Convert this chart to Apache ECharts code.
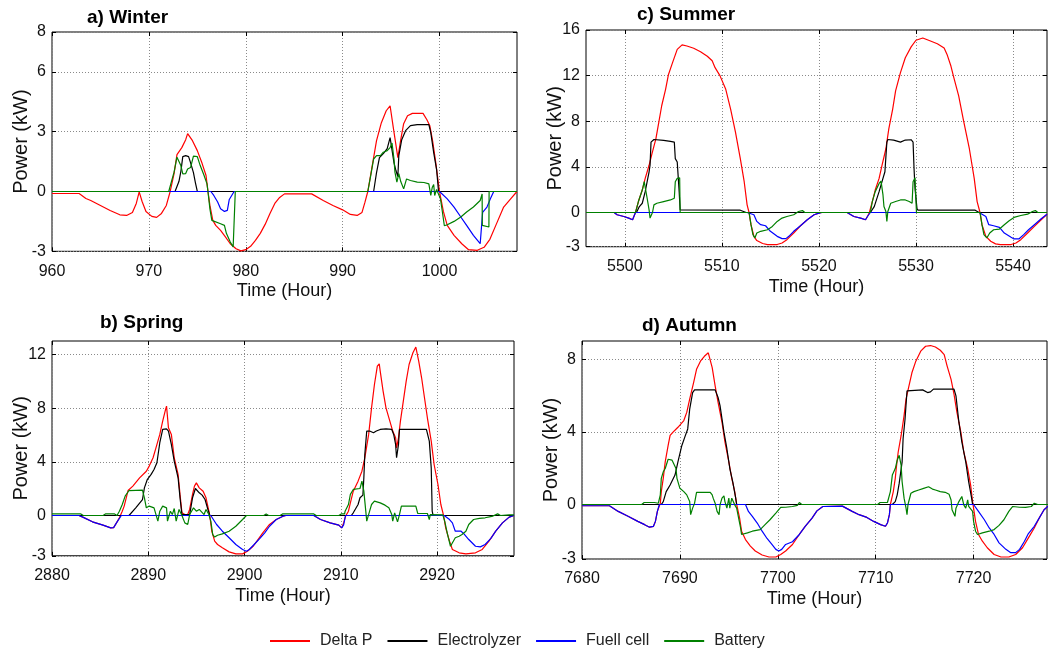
<!DOCTYPE html>
<html>
<head>
<meta charset="utf-8">
<script src="https://cdn.jsdelivr.net/npm/echarts@6/dist/echarts.min.js"></script>
<style>
  html, body { margin: 0; padding: 0; background: #fff; }
  #chart { width: 1048px; height: 655px; }
</style>
</head>
<body>
<div id="chart"></div>
<script>
// ── series names / colours ───────────────────────────────────
const seriesNames  = ['Delta P', 'Electrolyzer', 'Fuell cell', 'Battery']
const seriesColors = ['#ff0000', '#000000', '#0000ff', '#008000']

// ── tick labels ──────────────────────────────────────────────
const winterXTicks = [960, 970, 980, 990, 1000]
const winterYTicks = [-3, 0, 3, 6, 8]
const springXTicks = [2880, 2890, 2900, 2910, 2920]
const springYTicks = [-3, 0, 4, 8, 12]
const summerXTicks = [5500, 5510, 5520, 5530, 5540]
const summerYTicks = [-3, 0, 4, 8, 12, 16]
const autumnXTicks = [7680, 7690, 7700, 7710, 7720]
const autumnYTicks = [-3, 0, 4, 8]

// ── data: [hour, kW] ─────────────────────────────────────────
const winterDeltaP = [[960,-0.1],[962.8,-0.1],[963.5,-0.35],[964,-0.45],[965,-0.7],[966,-0.95],[967,-1.17],[967.7,-1.2],[968.3,-1.05],[968.7,-0.6],[969,-0.02],[969.3,-0.5],[969.7,-1.0],[970.3,-1.25],[970.8,-1.3],[971.3,-1.1],[971.8,-0.7],[972.2,0],[972.6,0.9],[972.9,1.85],[973.4,2.2],[973.8,2.6],[974,2.9],[974.5,2.55],[975,2.05],[975.5,1.4],[975.9,0.8],[976.1,0],[976.3,-0.7],[976.6,-1.45],[976.9,-1.7],[977.4,-1.95],[977.9,-2.28],[978.4,-2.62],[979,-2.87],[979.5,-2.98],[980,-2.92],[980.5,-2.75],[981,-2.45],[981.5,-2.1],[982,-1.65],[982.5,-1.1],[983,-0.6],[983.5,-0.3],[984,-0.12],[986.8,-0.12],[988,-0.45],[989,-0.7],[990,-0.92],[990.8,-1.15],[991.5,-1.2],[992,-1.05],[992.3,-0.55],[992.6,0],[993,1.13],[993.5,2.55],[994,3.45],[994.5,4.05],[994.9,4.3],[995.2,3.3],[995.7,1.7],[996,2.6],[996.3,3.4],[996.7,3.8],[997.2,3.92],[998.3,3.92],[998.7,3.6],[999,3.3],[999.3,2.5],[999.6,1.5],[1000,0],[1000.4,-1.0],[1000.8,-1.7],[1001.5,-2.2],[1002.3,-2.62],[1003,-2.92],[1003.9,-2.95],[1004.6,-2.8],[1005.2,-2.4],[1005.9,-1.6],[1006.6,-0.8],[1007.3,-0.4],[1008,0]]
const winterElectrolyzer = [[960,0],[972.7,0],[973.1,0.5],[973.3,1.0],[973.5,1.75],[973.8,1.8],[974.1,1.75],[974.3,1.45],[974.6,0.95],[974.8,0.45],[975,0],[993.2,0],[993.5,0.95],[993.8,1.7],[994.2,1.9],[994.6,2.15],[994.9,2.7],[995.05,2.6],[995.3,1.45],[995.5,1.05],[995.7,0.75],[995.8,1.8],[996.1,2.6],[996.5,3.05],[997,3.3],[997.7,3.35],[998.9,3.35],[999.1,2.95],[999.4,1.95],[999.7,1.1],[999.9,0],[1008,0]]
const winterFuelCell = [[960,0],[976.4,0],[976.7,-0.2],[977.1,-0.53],[977.4,-0.87],[977.8,-1.0],[978.1,-0.95],[978.3,-0.4],[978.8,0],[1000,0],[1000.8,-0.37],[1001.5,-0.78],[1002.2,-1.28],[1002.8,-1.7],[1003.5,-2.2],[1004.2,-2.62],[1004.4,-2.65],[1004.45,-1.05],[1004.9,-0.78],[1005.25,-0.37],[1005.6,0],[1008,0]]
const winterBattery = [[960,0],[972.05,0],[972.6,0.97],[972.9,1.72],[973.1,1.8],[973.3,1.3],[973.5,0.88],[973.8,0.9],[974,1.13],[974.3,1.2],[974.6,1.77],[975,1.75],[975.3,1.3],[975.7,0.8],[976,0.38],[976.1,0],[976.3,-0.87],[976.5,-1.45],[976.7,-1.55],[977.4,-1.62],[977.8,-1.7],[978,-2.1],[978.4,-2.53],[978.7,-2.78],[978.9,-2.85],[978.92,0],[992.6,0],[992.9,0.8],[993.2,1.63],[993.5,1.8],[993.9,1.8],[994.2,1.97],[994.6,2.05],[994.9,2.2],[995.1,2.43],[995.3,1.63],[995.4,0.97],[995.6,0.47],[995.8,0.9],[996,0.5],[996.3,0.13],[996.6,0.63],[997,0.55],[997.7,0.47],[998.4,0.45],[998.9,0.38],[999.1,-0.2],[999.25,0.2],[999.4,0.35],[999.5,-0.2],[999.7,0.1],[999.9,0],[1000.1,-0.37],[1000.3,-1.03],[1000.5,-1.72],[1000.8,-1.67],[1001.5,-1.5],[1002.2,-1.28],[1002.8,-1.03],[1003.5,-0.78],[1004.2,-0.45],[1004.4,-0.12],[1004.42,-1.7],[1005.1,-1.78],[1005.12,0],[1008,0]]

const springDeltaP = [[2880,0],[2882.8,0],[2883.2,-0.12],[2884.2,-0.47],[2885.3,-0.72],[2886.1,-0.92],[2886.4,-0.9],[2886.7,-0.55],[2887,-0.17],[2887.3,0.32],[2887.5,0.7],[2887.9,1.86],[2888.4,2.19],[2889.1,2.8],[2889.8,3.3],[2890.1,3.68],[2890.5,4.3],[2890.8,5.04],[2891.2,6.04],[2891.5,7.03],[2891.8,7.9],[2891.9,8.15],[2892.1,6.53],[2892.4,6.04],[2892.7,4.3],[2893.1,3.06],[2893.3,1.57],[2893.5,0.2],[2893.8,0.07],[2894.1,0.07],[2894.3,0.45],[2894.6,1.57],[2894.8,2.19],[2895,2.43],[2895.3,2.06],[2895.7,1.81],[2896,1.32],[2896.3,0.32],[2896.4,-0.05],[2896.6,-1.17],[2896.9,-1.91],[2897.2,-2.16],[2897.7,-2.41],[2898.4,-2.71],[2899.1,-2.86],[2899.8,-2.86],[2900.3,-2.66],[2900.9,-2.29],[2901.4,-1.79],[2901.9,-1.29],[2902.6,-0.67],[2903.3,-0.3],[2904,-0.05],[2904.3,0],[2907.2,0],[2907.9,-0.3],[2908.9,-0.55],[2909.8,-0.72],[2910.1,-0.92],[2910.3,-0.55],[2910.5,-0.05],[2910.8,0.32],[2911,0.94],[2911.3,1.81],[2911.8,2.56],[2912.2,3.3],[2912.5,4.3],[2912.9,6.04],[2913.2,8.02],[2913.5,9.76],[2913.8,11.13],[2914,11.3],[2914.1,10.76],[2914.4,9.27],[2914.7,8.02],[2915.1,7.03],[2915.4,6.29],[2915.7,5.79],[2915.8,5.04],[2916,5.79],[2916.2,7.03],[2916.5,8.52],[2916.8,10.01],[2917.1,11.25],[2917.5,12.12],[2917.8,12.55],[2918.1,11.5],[2918.4,10.26],[2918.7,8.77],[2919,7.28],[2919.4,5.54],[2919.7,3.8],[2920.1,2.31],[2920.4,0.82],[2920.7,-0.05],[2920.9,-0.92],[2921.3,-1.91],[2921.6,-2.53],[2922.3,-2.78],[2923,-2.86],[2924,-2.78],[2924.7,-2.53],[2925.4,-1.91],[2926.1,-1.17],[2926.8,-0.55],[2927.5,-0.12],[2928,0]]
const springElectrolyzer = [[2880,0],[2888,0],[2888.7,0.57],[2889.4,1.19],[2889.6,2.06],[2889.9,2.68],[2890.3,3.06],[2890.6,3.43],[2890.9,3.93],[2891.2,5.42],[2891.5,6.41],[2891.9,6.46],[2892.1,6.29],[2892.4,5.29],[2892.7,4.05],[2893.1,2.81],[2893.3,1.32],[2893.5,0.07],[2894.3,0.07],[2894.6,1.32],[2894.9,2.01],[2895.3,1.69],[2895.6,1.52],[2895.9,1.19],[2896.2,0.45],[2896.4,0],[2911.1,0],[2911.3,0.2],[2911.8,0.82],[2912,1.32],[2912.3,1.52],[2912.4,2.81],[2912.5,4.55],[2912.7,6.29],[2913,6.29],[2913.4,6.16],[2913.7,6.29],[2914.1,6.41],[2914.7,6.46],[2915.3,6.41],[2915.5,6.04],[2915.7,5.29],[2915.8,4.3],[2916,5.29],[2916.1,6.41],[2918.9,6.41],[2919.2,5.54],[2919.4,3.55],[2919.5,0.32],[2919.6,0],[2928,0]]
const springFuelCell = [[2880,0],[2882.8,0],[2883.2,-0.12],[2884.2,-0.47],[2885.3,-0.72],[2886.1,-0.92],[2886.4,-0.9],[2886.7,-0.55],[2887.2,0],[2896.5,0],[2897.1,-0.67],[2897.7,-1.17],[2898.4,-1.66],[2899.1,-2.16],[2899.8,-2.53],[2900.2,-2.66],[2900.5,-2.53],[2901,-2.16],[2901.6,-1.71],[2902.1,-1.29],[2902.6,-0.8],[2903.3,-0.3],[2904,-0.05],[2904.3,0],[2907.2,0],[2907.9,-0.3],[2908.9,-0.55],[2909.8,-0.72],[2910.1,-0.92],[2910.3,-0.7],[2910.5,0],[2920.75,0],[2921.3,-0.3],[2921.6,-0.55],[2921.9,-1.17],[2922.5,-1.17],[2922.8,-1.37],[2923.3,-1.79],[2924,-2.29],[2924.5,-2.34],[2925,-2.16],[2925.6,-1.71],[2926.1,-1.17],[2926.8,-0.55],[2927.5,-0.12],[2928,0]]
const springBattery = [[2880,0.12],[2883,0.12],[2883.25,0],[2885.3,0],[2885.55,0.12],[2886.5,0.12],[2886.75,0],[2887,0.32],[2887.3,0.82],[2887.6,1.44],[2888,1.86],[2889.4,1.89],[2889.6,1.32],[2889.8,0.57],[2890.1,0.7],[2890.3,0.82],[2890.6,0.57],[2891,-0.42],[2891.2,0.32],[2891.5,0.7],[2891.9,0.57],[2892,-0.42],[2892.3,0.32],[2892.5,0.07],[2892.7,0.52],[2892.9,-0.42],[2893.2,0.45],[2893.5,0],[2893.8,-0.55],[2894.1,-0.67],[2894.3,0.07],[2894.5,0.32],[2894.7,0.57],[2895,0.32],[2895.3,0.45],[2895.5,0.32],[2895.8,0.07],[2896,0.45],[2896.3,0.07],[2896.5,-0.42],[2896.7,-1.42],[2896.9,-1.61],[2897.2,-1.47],[2897.7,-1.37],[2898.4,-1.17],[2899.1,-0.8],[2899.8,-0.3],[2900.2,0],[2902,0],[2902.25,0.12],[2902.5,0],[2903.7,0],[2903.95,0.12],[2907.2,0.12],[2907.45,0],[2909.8,0],[2910.05,0.12],[2910.4,0.12],[2910.45,0.32],[2910.8,0.82],[2911,1.57],[2911.3,1.94],[2912,2.01],[2912.2,2.56],[2912.3,2.63],[2912.4,1.81],[2912.5,1.07],[2912.7,-0.42],[2913,0.32],[2913.2,0.82],[2913.5,1.07],[2914.1,0.94],[2914.6,0.77],[2915,0.57],[2915.3,0.07],[2915.4,-0.42],[2915.6,0.2],[2915.8,0.32],[2915.9,-0.47],[2916.1,0.07],[2916.3,0.7],[2917.8,0.7],[2918,0.15],[2919,0.15],[2919.2,-0.3],[2919.3,0.07],[2920.6,0.05],[2920.8,-0.42],[2921.1,-1.42],[2921.4,-2.29],[2921.6,-2.41],[2921.9,-1.66],[2922.3,-1.55],[2922.6,-1.42],[2923,-1.17],[2923.3,-0.67],[2923.8,-0.3],[2924.4,-0.22],[2925,-0.17],[2925.7,-0.07],[2926.3,0.12],[2926.6,0],[2927.5,0.05],[2928,0.05]]

const summerDeltaP = [[5496,0],[5498.9,0],[5499.2,-0.2],[5499.9,-0.35],[5500.4,-0.49],[5500.8,-0.64],[5500.9,-0.55],[5501.1,0],[5501.4,0.96],[5501.8,1.97],[5502.1,2.99],[5502.5,4.14],[5502.8,5.16],[5503.2,6.46],[5503.5,7.91],[5503.8,9.36],[5504.2,10.8],[5504.5,12.1],[5504.9,13.1],[5505.4,14.3],[5505.9,14.7],[5506.4,14.6],[5507.1,14.4],[5507.8,14.1],[5508.5,13.7],[5509,13.3],[5509.3,12.7],[5509.8,12.0],[5510.4,10.8],[5510.9,9.07],[5511.4,7.04],[5511.9,4.72],[5512.3,2.7],[5512.6,0.67],[5512.8,0],[5513,-1.07],[5513.3,-2.09],[5513.6,-2.46],[5514.2,-2.72],[5514.7,-2.81],[5515.7,-2.81],[5516.2,-2.67],[5516.7,-2.38],[5517.4,-1.8],[5518.1,-1.16],[5518.8,-0.64],[5519.5,-0.2],[5520,-0.06],[5520.3,0],[5522.9,0],[5523.6,-0.35],[5524.3,-0.49],[5524.8,-0.64],[5525,-0.35],[5525.2,0],[5525.5,0.96],[5525.8,1.97],[5526.2,2.99],[5526.5,4.14],[5526.9,5.59],[5527.2,7.33],[5527.6,9.07],[5527.9,10.67],[5528.4,12.26],[5528.9,13.57],[5529.5,14.52],[5530,15.1],[5530.7,15.3],[5531.3,15.1],[5532.2,14.8],[5532.9,14.43],[5533.2,13.86],[5533.6,12.84],[5533.9,11.83],[5534.4,10.23],[5534.9,8.06],[5535.5,5.59],[5536,2.99],[5536.3,0.96],[5536.6,0],[5536.8,-1.07],[5537.2,-2.09],[5537.7,-2.52],[5538.2,-2.75],[5538.7,-2.81],[5539.8,-2.81],[5540.3,-2.67],[5540.8,-2.38],[5541.5,-1.8],[5542.2,-1.22],[5542.9,-0.64],[5543.5,-0.15]]
const summerElectrolyzer = [[5496,0],[5501.2,0],[5501.5,0.52],[5501.8,0.81],[5502.1,1.83],[5502.3,2.7],[5502.5,3.57],[5502.6,4.14],[5502.7,6.17],[5503,6.4],[5504,6.32],[5504.7,6.23],[5505.1,6.17],[5505.2,4.72],[5505.4,4.43],[5505.6,1.83],[5505.7,0.23],[5505.9,0.2],[5511.9,0.2],[5512.5,0],[5525.3,0],[5525.7,0.52],[5526.2,1.83],[5526.5,2.7],[5526.8,3.57],[5527,6.17],[5527.1,6.4],[5527.7,6.35],[5528.4,6.17],[5528.9,6.35],[5529.5,6.38],[5529.7,6.17],[5529.8,3.86],[5529.9,2.12],[5530.1,0.38],[5530.2,0.2],[5536.1,0.2],[5536.5,0],[5543.5,0]]
const summerFuelCell = [[5496,0],[5498.9,0],[5499.2,-0.2],[5499.9,-0.35],[5500.4,-0.49],[5500.8,-0.64],[5500.9,-0.55],[5501.1,0],[5512.6,0],[5513.3,-0.2],[5513.6,-0.78],[5514,-1.07],[5514.5,-1.16],[5515,-1.65],[5515.7,-2.09],[5516.2,-2.29],[5516.6,-2.29],[5516.9,-2.09],[5517.4,-1.65],[5518.1,-1.16],[5518.8,-0.64],[5519.5,-0.2],[5520,-0.06],[5520.3,0],[5522.9,0],[5523.6,-0.35],[5524.3,-0.49],[5524.8,-0.64],[5525,-0.35],[5525.3,0],[5536.5,0],[5537.2,-0.35],[5537.5,-1.07],[5538,-1.16],[5538.6,-1.3],[5539.1,-1.8],[5539.8,-2.17],[5540.1,-2.32],[5540.6,-2.32],[5541.1,-1.94],[5541.6,-1.51],[5542.2,-1.07],[5542.9,-0.55],[5543.5,-0.15]]
const summerBattery = [[5496,0],[5501.1,0],[5501.4,0.96],[5501.8,1.97],[5502,2.7],[5502.1,2.84],[5502.3,1.25],[5502.5,0.23],[5502.6,-0.49],[5502.7,-0.64],[5502.85,0],[5503,0.67],[5503.3,0.81],[5504,0.96],[5504.7,1.1],[5505.1,1.25],[5505.2,2.7],[5505.4,2.99],[5505.65,3.04],[5505.7,0],[5512.8,0],[5513,-1.07],[5513.2,-1.94],[5513.4,-2.23],[5513.6,-1.8],[5514,-1.65],[5514.7,-1.51],[5515.2,-1.22],[5515.7,-0.78],[5516.2,-0.49],[5516.7,-0.35],[5517.4,-0.2],[5517.9,0.09],[5518.3,0.17],[5518.55,0],[5525.3,0],[5525.5,0.96],[5525.8,1.83],[5526.2,2.55],[5526.4,2.75],[5526.6,1.54],[5526.7,0.52],[5526.9,0.09],[5527,-0.78],[5527.1,0.09],[5527.4,0.81],[5527.9,0.96],[5528.4,1.1],[5528.9,1.1],[5529.3,0.96],[5529.6,0.81],[5529.7,2.7],[5529.9,3.04],[5530.05,0],[5536.6,0],[5536.8,-1.07],[5537,-1.94],[5537.3,-2.23],[5537.6,-1.8],[5538,-1.51],[5538.6,-1.45],[5539.1,-1.07],[5539.6,-0.72],[5540.1,-0.43],[5540.8,-0.26],[5541.5,-0.15],[5542,0.09],[5542.3,0.17],[5542.55,0],[5543.5,0]]

const autumnDeltaP = [[7680,-0.07],[7682.8,-0.07],[7683.7,-0.38],[7684.7,-0.65],[7685.7,-0.93],[7686.4,-1.11],[7686.9,-1.25],[7687.3,-1.2],[7687.5,-0.93],[7687.7,-0.38],[7688,0.07],[7688.1,0.71],[7688.3,1.44],[7688.5,2.35],[7688.8,3.25],[7689,3.8],[7689.3,3.98],[7689.8,4.25],[7690.4,4.62],[7690.7,5.07],[7691,5.8],[7691.4,6.71],[7691.7,7.44],[7692.1,7.89],[7692.5,8.16],[7692.9,8.35],[7693.1,8.3],[7693.3,7.53],[7693.6,6.53],[7693.9,5.62],[7694.3,4.53],[7694.6,3.44],[7695,2.35],[7695.3,1.44],[7695.6,0.71],[7695.8,0],[7696.1,-0.75],[7696.3,-1.47],[7696.7,-1.93],[7697.2,-2.29],[7697.7,-2.56],[7698.4,-2.78],[7699.1,-2.89],[7699.8,-2.89],[7700.3,-2.75],[7700.8,-2.56],[7701.5,-2.2],[7702.2,-1.65],[7702.8,-1.2],[7703.5,-0.75],[7704,-0.35],[7704.6,-0.11],[7706.6,-0.09],[7707.6,-0.38],[7708.3,-0.56],[7709.1,-0.71],[7709.8,-0.93],[7710.5,-1.11],[7711,-1.2],[7711.2,-1.02],[7711.4,-0.56],[7711.5,0],[7711.8,0.71],[7712,1.44],[7712.1,1.98],[7712.3,2.89],[7712.6,3.8],[7712.9,4.89],[7713.1,5.8],[7713.4,6.53],[7713.7,7.25],[7714.1,7.89],[7714.6,8.44],[7715.1,8.71],[7715.6,8.75],[7716.1,8.67],[7716.6,8.49],[7717,8.25],[7717.3,7.62],[7717.7,6.89],[7718,6.07],[7718.3,5.07],[7718.7,3.98],[7719,2.89],[7719.4,1.98],[7719.7,1.07],[7719.9,0.16],[7720,-0.2],[7720.2,-0.93],[7720.5,-1.65],[7720.9,-2.02],[7721.4,-2.38],[7722.1,-2.75],[7722.8,-2.89],[7723.6,-2.89],[7724.3,-2.75],[7725,-2.38],[7725.6,-1.84],[7726.2,-1.29],[7726.7,-0.75],[7727.2,-0.29],[7727.7,-0.05]]
const autumnElectrolyzer = [[7680,0],[7688.1,0],[7688.3,0.16],[7688.6,0.71],[7689,1.07],[7689.5,1.62],[7689.8,2.35],[7690.2,3.25],[7690.5,3.71],[7690.8,4.16],[7691,5.25],[7691.3,6.16],[7691.5,6.31],[7693.6,6.31],[7693.9,5.89],[7694.1,5.44],[7694.5,3.98],[7694.8,3.07],[7695.1,1.98],[7695.4,1.25],[7695.7,0.35],[7695.8,0],[7711.7,0],[7712,0.16],[7712.2,0.53],[7712.4,1.16],[7712.7,2.35],[7712.8,3.62],[7713,4.71],[7713.2,6.25],[7713.4,6.35],[7714.8,6.31],[7715.3,6.16],[7715.6,6.2],[7715.9,6.35],[7718,6.35],[7718.2,5.98],[7718.5,4.53],[7718.8,3.44],[7719.2,2.35],[7719.5,1.25],[7719.8,0.35],[7719.9,0],[7727.7,0]]
const autumnFuelCell = [[7680,-0.07],[7682.8,-0.07],[7683.7,-0.38],[7684.7,-0.65],[7685.7,-0.93],[7686.4,-1.11],[7686.9,-1.25],[7687.3,-1.2],[7687.5,-0.93],[7687.7,-0.38],[7687.9,0],[7696.7,0],[7697,-0.38],[7697.4,-0.65],[7697.9,-1.02],[7698.4,-1.47],[7698.9,-1.87],[7699.4,-2.2],[7699.8,-2.47],[7700.1,-2.56],[7700.4,-2.47],[7700.8,-2.2],[7701.5,-2.05],[7702.2,-1.65],[7702.8,-1.2],[7703.5,-0.75],[7704,-0.35],[7704.6,-0.11],[7706.6,-0.09],[7707.6,-0.38],[7708.3,-0.56],[7709.1,-0.71],[7709.8,-0.93],[7710.5,-1.11],[7711,-1.2],[7711.2,-1.02],[7711.4,-0.56],[7711.5,0],[7720,0],[7720.5,-0.38],[7721.1,-0.84],[7721.6,-1.29],[7722.1,-1.65],[7722.6,-2.11],[7723.3,-2.47],[7723.8,-2.65],[7724.3,-2.65],[7724.7,-2.47],[7725.2,-2.02],[7725.6,-1.6],[7726.2,-1.2],[7726.7,-0.75],[7727.2,-0.29],[7727.7,-0.05]]
const autumnBattery = [[7680,0],[7686.1,0],[7686.35,0.11],[7687.4,0.11],[7687.8,0.07],[7688,0.53],[7688.1,1.44],[7688.3,1.8],[7688.5,1.98],[7688.8,2.49],[7689.2,2.44],[7689.4,2.35],[7689.6,1.98],[7689.7,1.44],[7690,0.89],[7690.4,0.71],[7690.7,0.53],[7691,0.16],[7691.1,-0.56],[7691.3,-0.2],[7691.5,0.07],[7691.7,0.67],[7693.1,0.67],[7693.3,0.53],[7693.4,0.35],[7693.6,0.07],[7693.8,-0.38],[7694,-0.56],[7694.1,-0.02],[7694.3,0.35],[7694.5,0.47],[7694.6,0.16],[7694.8,-0.2],[7695,0.35],[7695.1,-0.2],[7695.3,0.35],[7695.5,0.44],[7695.6,-0.02],[7695.8,-0.2],[7696,-0.75],[7696.2,-1.29],[7696.3,-1.65],[7696.5,-1.75],[7696.9,-1.56],[7697.4,-1.47],[7698.2,-1.38],[7698.7,-1.11],[7699.2,-0.84],[7699.8,-0.47],[7700.3,-0.16],[7700.8,-0.15],[7701.5,-0.11],[7702,-0.05],[7702.2,0.11],[7702.45,0],[7710.2,0],[7710.45,0.11],[7711.2,0.11],[7711.4,0.07],[7711.5,0.71],[7711.7,1.62],[7712,1.98],[7712.2,2.44],[7712.4,2.71],[7712.6,2.16],[7712.7,1.25],[7712.9,0.35],[7713.1,-0.2],[7713.2,-0.56],[7713.3,0],[7713.6,0.62],[7713.9,0.71],[7714.4,0.8],[7714.9,0.89],[7715.4,0.98],[7715.8,0.85],[7716.1,0.8],[7716.6,0.71],[7717.1,0.67],[7717.5,0.56],[7717.7,0.25],[7717.8,-0.29],[7718.1,-0.65],[7718.2,-0.2],[7718.5,0.16],[7718.8,0.44],[7719,-0.02],[7719.2,-0.2],[7719.4,0.25],[7719.5,-0.11],[7719.7,-0.02],[7719.9,-0.38],[7720,-0.93],[7720.2,-1.47],[7720.4,-1.65],[7720.9,-1.56],[7721.6,-1.47],[7722.1,-1.38],[7722.6,-1.15],[7723.1,-0.84],[7723.6,-0.38],[7724,-0.11],[7724.7,-0.15],[7725.3,-0.16],[7725.9,-0.11],[7726.2,0.07],[7726.3,0.11],[7726.55,0],[7727.7,0]]

// ── panel layout (heights chosen so the 0 kW line sits on a pixel centre) ──
const FONT = "'Liberation Sans', Arial, sans-serif"
const panels = [
  { title: 'a) Winter', tx: 87,  ty: 8,   grid: { left: 52,  top: 32,  width: 465, height: 219.3 },
    xMin: 960,  xMax: 1008,   yMax: 8,  xt: winterXTicks, yt: winterYTicks,
    data: [winterDeltaP, winterElectrolyzer, winterFuelCell, winterBattery] },
  { title: 'b) Spring', tx: 100, ty: 313, grid: { left: 52,  top: 341, width: 462, height: 214.77 },
    xMin: 2880, xMax: 2928,   yMax: 13, xt: springXTicks, yt: springYTicks,
    data: [springDeltaP, springElectrolyzer, springFuelCell, springBattery] },
  { title: 'c) Summer', tx: 637, ty: 5,   grid: { left: 586, top: 30,  width: 461, height: 216.72 },
    xMin: 5496, xMax: 5543.5, yMax: 16, xt: summerXTicks, yt: summerYTicks,
    data: [summerDeltaP, summerElectrolyzer, summerFuelCell, summerBattery] },
  { title: 'd) Autumn', tx: 642, ty: 316, grid: { left: 582, top: 341, width: 465, height: 218 },
    xMin: 7680, xMax: 7727.5, yMax: 9,  xt: autumnXTicks, yt: autumnYTicks,
    data: [autumnDeltaP, autumnElectrolyzer, autumnFuelCell, autumnBattery] },
]

const gridLine = { show: true, lineStyle: { color: '#8a8a8a', type: [1, 2], width: 1 } }
const tickStyle = { lineStyle: { color: '#000', width: 1 } }

const grids = [], xAxes = [], yAxes = [], titles = [], series = []
panels.forEach((p, i) => {
  grids.push({ ...p.grid, show: true, borderColor: '#000', borderWidth: 1, containLabel: false })
  titles.push({ text: p.title, left: p.tx, top: p.ty, padding: 0,
    textStyle: { fontSize: 19, fontWeight: 'bold', color: '#000', fontFamily: FONT } })
  xAxes.push({
    type: 'value', gridIndex: i, position: 'bottom', min: p.xMin, max: p.xMax,
    axisLine: { show: false, onZero: false },
    axisTick: { show: true, inside: true, length: 4, customValues: p.xt, ...tickStyle },
    axisLabel: { customValues: p.xt, formatter: v => String(v), color: '#111', fontSize: 16, fontFamily: FONT, margin: 12 },
    splitLine: gridLine,
    name: 'Time (Hour)', nameLocation: 'middle', nameGap: 31, nameMoveOverlap: false,
    nameTextStyle: { fontSize: 18, color: '#111', fontFamily: FONT },
  })
  yAxes.push({
    type: 'value', gridIndex: i, position: 'left', min: -3, max: p.yMax,
    axisLine: { show: false, onZero: false },
    axisTick: { show: true, inside: true, length: 4, customValues: p.yt, ...tickStyle },
    axisLabel: { customValues: p.yt, color: '#111', fontSize: 16, fontFamily: FONT, margin: 6 },
    splitLine: gridLine,
    name: 'Power (kW)', nameLocation: 'middle', nameGap: 21, nameRotate: 90, nameMoveOverlap: false,
    nameTextStyle: { fontSize: 20, color: '#111', fontFamily: FONT },
  })
  p.data.forEach((d, k) => {
    series.push({
      type: 'line', name: seriesNames[k], xAxisIndex: i, yAxisIndex: i, data: d,
      symbol: 'none', showSymbol: false, animation: false, z: 2 + k,
      lineStyle: { color: seriesColors[k], width: 1.2 }, itemStyle: { color: seriesColors[k] },
    })
  })
})
// tick marks on the top and right edges
panels.forEach((p, i) => {
  xAxes.push({
    type: 'value', gridIndex: i, position: 'top', min: p.xMin, max: p.xMax,
    axisLine: { show: false, onZero: false },
    axisTick: { show: true, inside: true, length: 4, customValues: p.xt, ...tickStyle },
    axisLabel: { show: false }, splitLine: { show: false },
  })
  yAxes.push({
    type: 'value', gridIndex: i, position: 'right', min: -3, max: p.yMax,
    axisLine: { show: false, onZero: false },
    axisTick: { show: true, inside: true, length: 4, customValues: p.yt, ...tickStyle },
    axisLabel: { show: false }, splitLine: { show: false },
  })
})

const chart = echarts.init(document.getElementById('chart'), null, { renderer: 'canvas' })
chart.setOption({
  backgroundColor: '#fff',
  animation: false,
  title: titles,
  legend: {
    data: seriesNames, left: 265, top: 628, icon: 'rect', itemWidth: 40, itemHeight: 2, itemGap: 15,
    textStyle: { fontSize: 16, color: '#222', fontFamily: FONT, padding: [0, 0, 0, 5] },
  },
  grid: grids,
  xAxis: xAxes,
  yAxis: yAxes,
  series,
})
</script>
</body>
</html>
